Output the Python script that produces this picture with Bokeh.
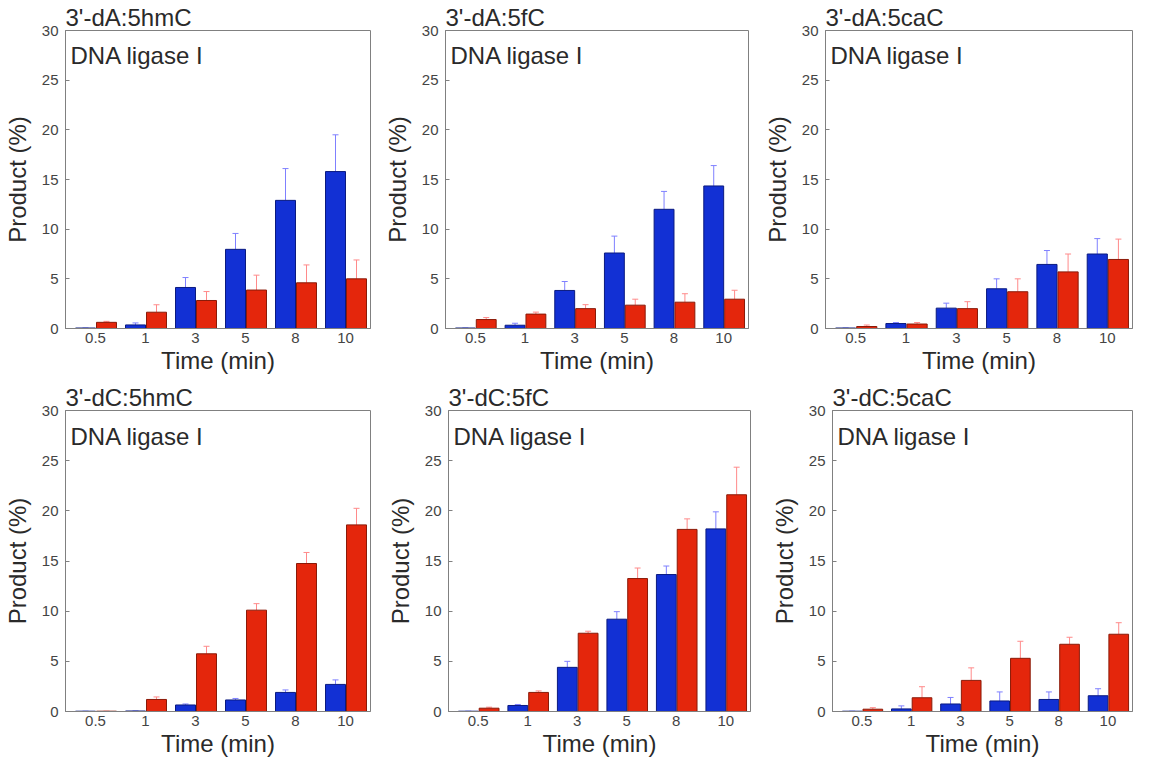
from bokeh.plotting import figure
from bokeh.models import (Range1d, FixedTicker, Whisker, TeeHead,
                          ColumnDataSource, Label)
from bokeh.transform import dodge
from bokeh.layouts import column, row
from bokeh.embed import file_html
from bokeh.resources import INLINE

# ---------------- data ----------------
TIME = ["0.5", "1", "3", "5", "8", "10"]

TITLES = ["3'-dA:5hmC", "3'-dA:5fC", "3'-dA:5caC",
          "3'-dC:5hmC", "3'-dC:5fC", "3'-dC:5caC"]

dA_5hmC_blue     = [0.05, 0.36, 4.13, 7.97, 12.9, 15.8]
dA_5hmC_blue_err = [0.0, 0.2, 1.0, 1.6, 3.2, 3.7]
dA_5hmC_red      = [0.62, 1.64, 2.82, 3.87, 4.6, 5.0]
dA_5hmC_red_err  = [0.1, 0.75, 0.9, 1.5, 1.8, 1.9]

dA_5fC_blue      = [0.05, 0.33, 3.83, 7.6, 12.0, 14.35]
dA_5fC_blue_err  = [0.0, 0.2, 0.9, 1.7, 1.8, 2.05]
dA_5fC_red       = [0.9, 1.45, 2.0, 2.35, 2.65, 2.95]
dA_5fC_red_err   = [0.2, 0.2, 0.4, 0.6, 0.85, 0.9]

dA_5caC_blue     = [0.05, 0.5, 2.05, 4.0, 6.45, 7.5]
dA_5caC_blue_err = [0.0, 0.1, 0.5, 1.0, 1.4, 1.55]
dA_5caC_red      = [0.2, 0.45, 2.0, 3.7, 5.7, 6.95]
dA_5caC_red_err  = [0.15, 0.15, 0.7, 1.3, 1.8, 2.05]

dC_5hmC_blue     = [0.03, 0.05, 0.65, 1.15, 1.9, 2.7]
dC_5hmC_blue_err = [0.0, 0.0, 0.1, 0.15, 0.25, 0.45]
dC_5hmC_red      = [0.03, 1.2, 5.75, 10.1, 14.75, 18.6]
dC_5hmC_red_err  = [0.0, 0.25, 0.75, 0.65, 1.1, 1.65]

dC_5fC_blue      = [0.03, 0.6, 4.4, 9.2, 13.65, 18.2]
dC_5fC_blue_err  = [0.0, 0.1, 0.6, 0.75, 0.85, 1.7]
dC_5fC_red       = [0.33, 1.9, 7.8, 13.25, 18.15, 21.6]
dC_5fC_red_err   = [0.1, 0.15, 0.2, 1.05, 1.05, 2.75]

dC_5caC_blue     = [0.03, 0.26, 0.75, 1.05, 1.2, 1.57]
dC_5caC_blue_err = [0.0, 0.3, 0.65, 0.9, 0.75, 0.7]
dC_5caC_red      = [0.23, 1.37, 3.1, 5.3, 6.7, 7.7]
dC_5caC_red_err  = [0.15, 1.1, 1.25, 1.7, 0.7, 1.15]

SERIES = [
    (dA_5hmC_blue, dA_5hmC_blue_err, dA_5hmC_red, dA_5hmC_red_err),
    (dA_5fC_blue, dA_5fC_blue_err, dA_5fC_red, dA_5fC_red_err),
    (dA_5caC_blue, dA_5caC_blue_err, dA_5caC_red, dA_5caC_red_err),
    (dC_5hmC_blue, dC_5hmC_blue_err, dC_5hmC_red, dC_5hmC_red_err),
    (dC_5fC_blue, dC_5fC_blue_err, dC_5fC_red, dC_5fC_red_err),
    (dC_5caC_blue, dC_5caC_blue_err, dC_5caC_red, dC_5caC_red_err),
]

Y_TICKS = [0, 5, 10, 15, 20, 25, 30]

# ---------------- style ----------------
FONT = "Liberation Sans"
TXT = "#2a2a2a"
GREY = "#808080"
BLUE_FILL, BLUE_EDGE, BLUE_ERR = "#1230d4", "#0a1a80", "#7f80ff"
RED_FILL, RED_EDGE, RED_ERR = "#e4260c", "#8a1a08", "#ff8a8a"

# (width, height, border_left, border_right, border_top, border_bottom)
LAYOUT = [
    (380, 376, 60, 10, 25, 40),
    (380, 376, 60, 12, 25, 40),
    (373, 376, 62, 1, 30, 40),
    (380, 383, 65, 10, 30, 40),
    (380, 383, 68, 10, 34, 40),
    (373, 383, 72, 1, 34, 40),
]


def make_panel(k):
    blue, blue_err, red, red_err = SERIES[k]
    w, h, bl, br, bt, bb = LAYOUT[k]
    idx = list(range(len(TIME)))
    src = ColumnDataSource(dict(
        idx=idx,
        blue=blue, blue_hi=[b + e for b, e in zip(blue, blue_err)],
        red=red, red_hi=[r + e for r, e in zip(red, red_err)],
    ))
    p = figure(width=w, height=h, output_backend="svg", toolbar_location=None,
               x_range=Range1d(-0.6, 5.5), y_range=Range1d(0, 30),
               min_border_left=bl, min_border_right=br,
               min_border_top=bt, min_border_bottom=bb)
    p.title.text = TITLES[k]
    p.title.text_font = FONT
    p.title.text_font_size = "24px"
    p.title.text_font_style = "normal"
    p.title.text_color = TXT
    p.title.text_line_height = 0.9
    p.title.offset = 0
    p.title.standoff = 0

    p.grid.visible = False
    p.outline_line_color = GREY
    p.outline_line_width = 1
    p.background_fill_color = "white"
    p.border_fill_color = "white"

    bx = dodge("idx", -0.2, range=p.x_range)
    rx = dodge("idx", 0.22, range=p.x_range)

    wb = Whisker(base=bx, lower="blue", upper="blue_hi", source=src,
                 line_color=BLUE_ERR, line_width=1, lower_head=None,
                 upper_head=TeeHead(size=6, line_color=BLUE_ERR, line_width=1))
    wr = Whisker(base=rx, lower="red", upper="red_hi", source=src,
                 line_color=RED_ERR, line_width=1, lower_head=None,
                 upper_head=TeeHead(size=6, line_color=RED_ERR, line_width=1))
    wb.level = "underlay"
    wr.level = "underlay"
    p.add_layout(wb)
    p.add_layout(wr)

    p.vbar(x=bx, top="blue", bottom=0, width=0.4, source=src,
           fill_color=BLUE_FILL, line_color=BLUE_EDGE, line_width=1)
    p.vbar(x=rx, top="red", bottom=0, width=0.4, source=src,
           fill_color=RED_FILL, line_color=RED_EDGE, line_width=1)

    xa = p.xaxis[0]
    xa.ticker = FixedTicker(ticks=idx)
    xa.major_label_overrides = {i: t for i, t in zip(idx, TIME)}
    xa.axis_label = "Time (min)"
    ya = p.yaxis[0]
    ya.ticker = FixedTicker(ticks=Y_TICKS)
    ya.axis_label = "Product (%)"
    for ax in (xa, ya):
        ax.axis_line_color = GREY
        ax.major_tick_line_color = GREY
        ax.major_tick_in = 4
        ax.major_tick_out = 0
        ax.minor_tick_line_color = None
        ax.major_label_text_font = FONT
        ax.major_label_text_font_size = "15px"
        ax.major_label_text_color = "#444444"
        ax.major_label_text_line_height = 0.9
        ax.axis_label_text_font = FONT
        ax.axis_label_text_font_size = "24px"
        ax.axis_label_text_font_style = "normal"
        ax.axis_label_text_color = TXT
        ax.axis_label_text_line_height = 0.9
    xa.major_tick_in = 0
    xa.major_label_standoff = 4
    xa.axis_label_standoff = 1
    ya.major_label_standoff = 7
    ya.axis_label_standoff = 8

    p.add_layout(Label(x=-0.5, y=28.8, text="DNA ligase I", text_font=FONT,
                       text_font_size="24px", text_color=TXT,
                       text_baseline="top", text_align="left"))
    return p


panels = [make_panel(k) for k in range(6)]
layout = column(row(*panels[:3], spacing=0), row(*panels[3:], spacing=0),
                spacing=0)

open("out.html", "w").write(file_html(layout, INLINE))
